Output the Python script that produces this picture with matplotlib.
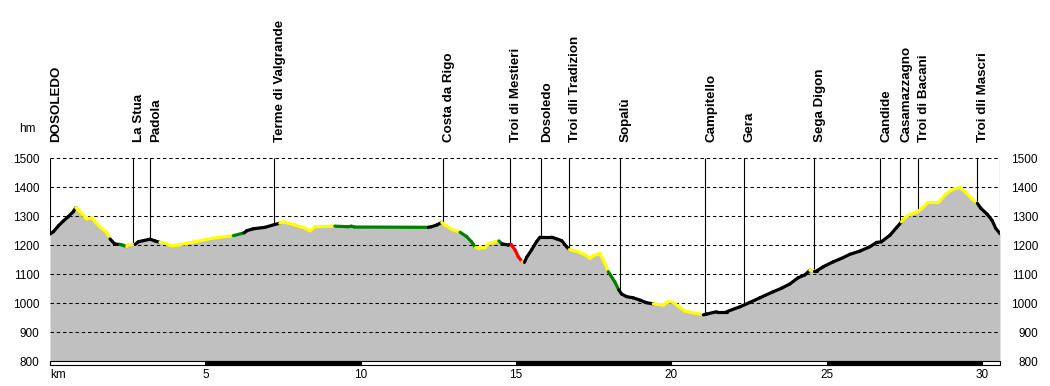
import numpy as np
import matplotlib
matplotlib.use("Agg")
import matplotlib.pyplot as plt
from matplotlib.collections import LineCollection
from matplotlib.patches import Rectangle
from matplotlib.transforms import ScaledTranslation

plt.rcParams['font.family'] = ['Liberation Sans', 'DejaVu Sans']

# profile: distance (km), elevation (m) and colour code of the segment starting at each point
dist = [0.00, 0.11, 0.27, 0.43, 0.59, 0.75, 0.83, 1.02, 1.18, 1.34,
        1.45, 1.66, 1.82, 1.93, 2.09, 2.25, 2.33, 2.47, 2.52, 2.74,
        2.84, 3.00, 3.22, 3.38, 3.54, 3.65, 3.92, 4.13, 4.67, 5.20,
        5.63, 5.90, 6.25, 6.33, 6.54, 6.92, 7.24, 7.40, 7.51, 7.89,
        8.21, 8.37, 8.53, 9.17, 9.60, 9.70, 9.80, 12.18, 12.28, 12.45,
        12.61, 12.71, 12.93, 13.20, 13.41, 13.57, 13.70, 13.79, 14.00, 14.11,
        14.32, 14.45, 14.55, 14.75, 14.84, 14.97, 15.07, 15.20, 15.27, 15.34,
        15.50, 15.66, 15.77, 16.15, 16.31, 16.47, 16.63, 16.72, 17.00, 17.22,
        17.38, 17.49, 17.70, 17.86, 17.97, 18.18, 18.31, 18.40, 18.56, 18.77,
        18.99, 19.20, 19.42, 19.74, 19.90, 20.06, 20.44, 20.81, 21.03, 21.14,
        21.46, 21.78, 22.21, 22.53, 22.85, 23.28, 23.55, 23.82, 24.08, 24.30,
        24.46, 24.59, 24.68, 24.89, 25.21, 25.48, 25.75, 26.07, 26.39, 26.61,
        26.76, 27.04, 27.25, 27.41, 27.49, 27.68, 27.90, 28.06, 28.27, 28.60,
        28.86, 29.08, 29.29, 29.45, 29.66, 29.85, 29.96, 30.17, 30.33, 30.44,
        30.58]
elev = [1239, 1247, 1267, 1284, 1299, 1316, 1330, 1310, 1291, 1295,
        1281, 1259, 1245, 1222, 1204, 1203, 1201, 1195, 1203, 1203,
        1212, 1216, 1221, 1215, 1210, 1209, 1198, 1201, 1212, 1224,
        1230, 1233, 1243, 1250, 1257, 1262, 1272, 1276, 1281, 1270,
        1259, 1250, 1264, 1266, 1264, 1266, 1263, 1262, 1264, 1270,
        1279, 1270, 1255, 1245, 1230, 1212, 1192, 1190, 1192, 1204,
        1212, 1215, 1205, 1201, 1203, 1184, 1161, 1143, 1141, 1158,
        1184, 1212, 1228, 1228, 1222, 1216, 1195, 1185, 1178, 1167,
        1155, 1164, 1172, 1138, 1109, 1074, 1046, 1032, 1023, 1019,
        1011, 1002, 998, 994, 1006, 1003, 973, 965, 960, 963,
        971, 971, 988, 1003, 1019, 1040, 1052, 1067, 1088, 1098,
        1114, 1112, 1112, 1126, 1143, 1155, 1169, 1180, 1195, 1210,
        1212, 1235, 1261, 1281, 1293, 1307, 1314, 1327, 1348, 1348,
        1379, 1394, 1399, 1385, 1362, 1345, 1328, 1307, 1285, 1259,
        1240]
grade = ("kkkkkkyyyy"
         "yyykkggyyk"
         "kkkkyyyyyy"
         "ygkkkkkyyy"
         "yyyggggkkk"
         "yyygggyyyy"
         "ygkkrrrykk"
         "kkkkkkkyyy"
         "yyyyggkkkk"
         "kkyyyyyykk"
         "kkkkkkkkkk"
         "ykkkkkkkkk"
         "kkkyyyyyyy"
         "yyyyykkkkk")

places = ["DOSOLEDO", "La Stua", "Padola", "Terme di Valgrande", "Costa da Rigo",
          "Troi di Mestieri", "Dosoledo", "Troi dli Tradizion", "Sopalù", "Campitello",
          "Gera", "Sega Digon", "Candide", "Casamazzagno", "Troi di Bacani", "Troi dli Mascri"]
place_km = [0.0, 2.66, 3.23, 7.21, 12.66, 14.82, 15.81, 16.71, 18.35, 21.10,
            22.33, 24.60, 26.72, 27.37, 27.95, 29.85]

elev_ticks = [800, 900, 1000, 1100, 1200, 1300, 1400, 1500]
km_ticks = [0, 5, 10, 15, 20, 25, 30]
km_labels = ["km", "5", "10", "15", "20", "25", "30"]

colors = {"k": "black", "y": "#ffff00", "g": "#008000", "r": "#ff0000"}

dist = np.array(dist)
elev = np.array(elev)
xmax = dist[-1]

fig = plt.figure(figsize=(10.5, 3.86), dpi=100)
ax = fig.add_axes([50 / 1050, 24.7 / 386, 950 / 1050, 203 / 386])
ax.set_xlim(0, xmax)
ax.set_ylim(800, 1500)

ax.fill_between(dist, elev, 800, color="#c0c0c0", lw=0, zorder=1)
ax.hlines(elev_ticks[1:], 0, xmax, colors="black", lw=0.75,
          linestyles=(0, (3.3, 2.7)), zorder=2)

# waypoint lines and names
for name, k in zip(places, place_km):
    ax.vlines(k, np.interp(k, dist, elev), 1500, color="black", lw=0.8, zorder=3)
    ax.annotate(name, (k, 1500), xytext=(0, 11.5), textcoords="offset points",
                rotation=90, ha="left", va="bottom", fontsize=9.6, fontweight="bold",
                annotation_clip=False)
ax.vlines(xmax, elev[-1], 1500, color="black", lw=0.8, zorder=3)

segs = [[(dist[i], elev[i]), (dist[i + 1], elev[i + 1])] for i in range(len(dist) - 1)]
lc = LineCollection(segs, colors=[colors[c] for c in grade],
                    linewidths=2.3, capstyle="round", zorder=4)
ax.add_collection(lc)

# distance bar, alternating every 5 km
ax.add_patch(Rectangle((0, 786), xmax, 15, facecolor="white", edgecolor="black",
                       lw=0.8, clip_on=False, zorder=5))
for k in km_ticks[1::2]:
    ax.add_patch(Rectangle((k, 786), min(5, xmax - k), 15, facecolor="black",
                           edgecolor="black", lw=0.8, clip_on=False, zorder=5))

for s in ax.spines.values():
    s.set_visible(False)

ax.set_yticks(elev_ticks)
ax.tick_params(axis="y", length=0, labelsize=8.5, pad=7.7, labelright=True)
# right-hand labels are right aligned
shift = ScaledTranslation(38 / 100, 0, fig.dpi_scale_trans)
for t in ax.yaxis.get_major_ticks():
    t.label2.set_horizontalalignment("right")
    t.label2.set_transform(ax.get_yaxis_transform(which="tick2") + shift)

ax.set_xticks(km_ticks)
ax.set_xticklabels(km_labels)
ax.tick_params(axis="x", length=0, labelsize=8.5, pad=5.5)
ax.get_xticklabels()[0].set_horizontalalignment("left")

fig.text(27 / 1050, 1 - 129 / 386, "hm", ha="center", va="center", fontsize=8.5)

fig.savefig("out.png", dpi=100)
